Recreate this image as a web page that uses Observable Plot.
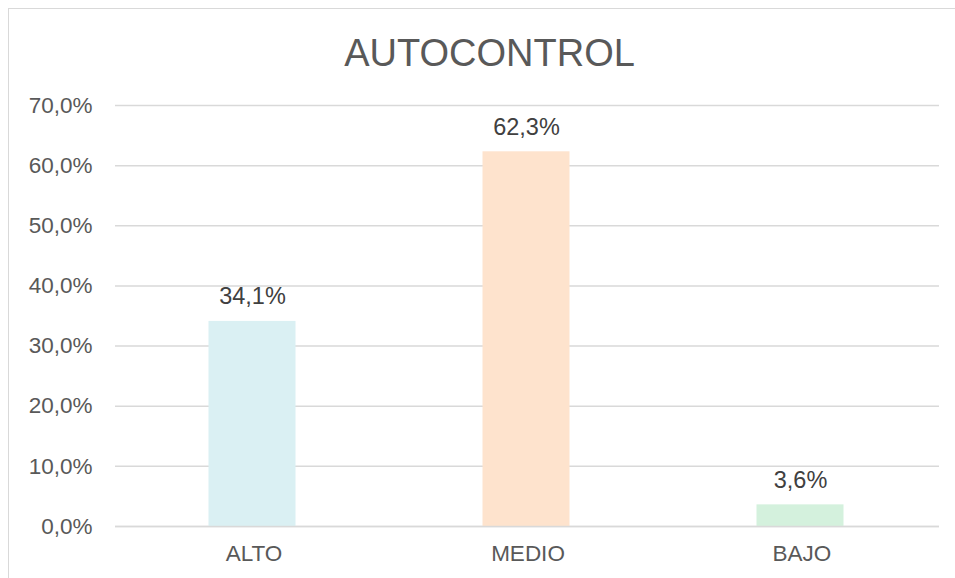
<!DOCTYPE html>
<html>
<head>
<meta charset="utf-8">
<script src="https://cdn.jsdelivr.net/npm/d3@7"></script>
<script src="https://cdn.jsdelivr.net/npm/@observablehq/plot@0.6"></script>
<style>
  html, body { margin: 0; padding: 0; background: #fff; }
  #wrap { position: relative; width: 955px; height: 578px; overflow: hidden; }
  #border { position: absolute; left: 8px; top: 8px; width: 980px; height: 600px; border: 1.5px solid #d9d9d9; box-sizing: border-box; pointer-events: none; }
  #chart { position: absolute; left: 0; top: 0; }
</style>
</head>
<body>
<div id="wrap"><div id="chart"></div><div id="border"></div></div>
<script>
const categories = ["ALTO", "MEDIO", "BAJO"];
const values = [0.341, 0.623, 0.036];
const colors = ["#daf0f3", "#fee3cd", "#d4f1dd"];
const yTicks = [0, 0.1, 0.2, 0.3, 0.4, 0.5, 0.6, 0.7];
const title = "AUTOCONTROL";

const data = categories.map((c, i) => ({ cat: c, v: values[i], color: colors[i] }));
const pct = v => (v * 100).toFixed(1).replace(".", ",") + "%";
const font = "'Liberation Sans', Arial, sans-serif";

const chart = Plot.plot({
  width: 955,
  height: 578,
  marginTop: 105,
  marginBottom: 52,
  marginLeft: 115,
  marginRight: 16,
  style: { fontFamily: font, color: "#595959", background: "transparent" },
  x: { domain: categories, paddingInner: 0.683, paddingOuter: 0.3415, label: null },
  y: { domain: [0, 0.7], ticks: yTicks, label: null },
  marks: [
    Plot.ruleY(yTicks, { stroke: "#d9d9d9", strokeWidth: 1.5 }),
    Plot.barY(data, { x: "cat", y: "v", fill: "color", dx: -1.5 }),
    Plot.ruleY([0], { stroke: "#d9d9d9", strokeWidth: 1.5 }),
    Plot.text(data, { x: "cat", y: "v", text: d => pct(d.v), lineAnchor: "bottom", dy: -17, dx: -1.5, fontSize: 23.5, fill: "#404040" }),
    Plot.axisY({ ticks: yTicks, tickFormat: pct, tickSize: 0, tickPadding: 23, fontSize: 22.5, fill: "#595959", label: null }),
    Plot.axisX({ tickSize: 0, tickPadding: 19, fontSize: 22.5, fill: "#595959", label: null }),
    Plot.text([title], { frameAnchor: "top", lineAnchor: "bottom", dy: -40, dx: -38, fontSize: 38, fill: "#595959" })
  ]
});
document.getElementById("chart").appendChild(chart);
</script>
</body>
</html>
